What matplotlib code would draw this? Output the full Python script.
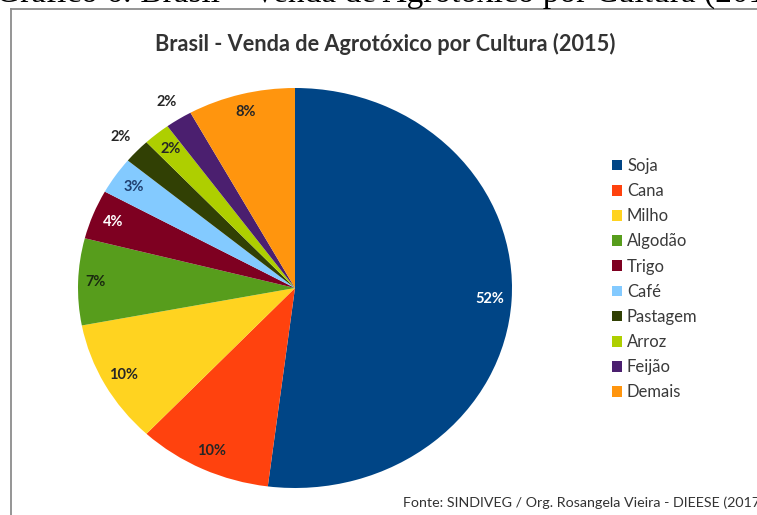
import matplotlib.pyplot as plt
import numpy as np
from matplotlib.lines import Line2D

# data
culturas = ['Soja', 'Cana', 'Milho', 'Algodão', 'Trigo', 'Café',
            'Pastagem', 'Arroz', 'Feijão', 'Demais']
percentuais = [52, 10, 10, 7, 4, 3, 2, 2, 2, 8]

# LibreOffice default palette
cores = ['#004586', '#ff420e', '#ffd320', '#579d1c', '#7e0021',
         '#83caff', '#314004', '#aecf00', '#4b1f6f', '#ff950e']
cor_rotulo = ['white', '#262626', '#262626', '#1a2a10', 'white',
              '#1f3f6f', '#262626', '#262626', '#262626', '#262626']
dist_rotulo = [0.9, 0.9, 0.9, 0.92, 0.9, 0.9, 1.1, 0.9, 1.1, 0.91]

W, H = 757, 515
fig = plt.figure(figsize=(W / 100, H / 100), dpi=100)
fig.patch.set_facecolor('white')

# clipped caption from the page above the chart
fig.text(-4 / W, 1 - 1.5 / H, 'Gráfico 6: Brasil – Venda de Agrotóxico por Cultura (2015)',
         family='Liberation Serif', fontsize=24, color='black',
         ha='left', va='baseline')

# chart frame
fig.add_artist(Line2D([11 / W, 11 / W], [1 - 9 / H, -0.1], color='#8c8c8c', lw=1.3))
fig.add_artist(Line2D([11 / W, 1.1], [1 - 9 / H, 1 - 9 / H], color='#8c8c8c', lw=1.3))

fig.text(385 / W, 1 - 44 / H, 'Brasil - Venda de Agrotóxico por Cultura (2015)',
         family='Lato', fontweight='bold', fontsize=15.7, color='#333333',
         ha='center', va='center')

ax = fig.add_axes([78 / W, 1 - 488 / H, 434 / W, 400 / H])
wedges, _ = ax.pie(percentuais, colors=cores, startangle=90, counterclock=False,
                   wedgeprops=dict(linewidth=0))
ax.set_aspect('auto')
ax.set_xlim(-1, 1)
ax.set_ylim(-1, 1)

for w, p, c, k in zip(wedges, percentuais, cor_rotulo, dist_rotulo):
    ang = np.deg2rad((w.theta1 + w.theta2) / 2)
    ax.text(k * np.cos(ang), k * np.sin(ang), f'{p}%', ha='center', va='center',
            family='Lato', fontweight='bold', fontsize=10.5, color=c)

leg = fig.legend(wedges, culturas, loc='upper left',
                 bbox_to_anchor=(597 / W, 1 - 143 / H), frameon=False,
                 prop=dict(family='Lato', size=12), labelcolor='#3a3a3a',
                 handlelength=0.6, handleheight=0.6, handletextpad=0.3,
                 labelspacing=0.55)

fig.text(403 / W, 1 - 503 / H, 'Fonte: SINDIVEG / Org. Rosangela Vieira - DIEESE (2017)',
         family='Lato', fontsize=10.3, color='#333333', ha='left', va='center')

fig.savefig('out.png', dpi=100)
